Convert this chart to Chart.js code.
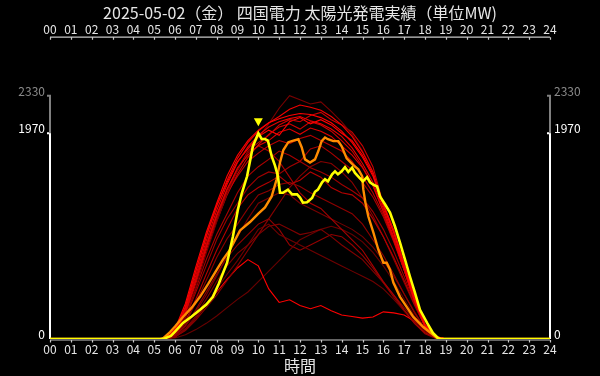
<!DOCTYPE html>
<html><head><meta charset="utf-8">
<script src="https://cdn.jsdelivr.net/npm/chart.js@4.4.1/dist/chart.umd.min.js"></script>
<style>
html,body{margin:0;padding:0;background:#000;}
#wrap{width:600px;height:376px;}
</style></head>
<body><div id="wrap"><canvas id="c" width="600" height="376"></canvas></div>
<script>
const TITLE='2025-05-02（金） 四国電力 太陽光発電実績（単位MW)';
const X_TITLE='時間';
const hourLabels=['00','01','02','03','04','05','06','07','08','09','10','11','12','13','14','15','16','17','18','19','20','21','22','23','24'];

// today (yellow)
const todayHours=[0,5.3,5.5,5.8,6.0,6.38,6.8,7.2,7.5,7.82,8.1,8.5,8.78,9.02,9.2,9.46,9.74,10.0,10.16,10.32,10.46,10.64,10.8,10.94,11.04,11.18,11.42,11.62,11.86,12.0,12.14,12.34,12.58,12.72,12.86,13.06,13.2,13.34,13.54,13.68,13.82,14.0,14.16,14.32,14.5,14.64,14.78,15.02,15.22,15.36,15.5,15.7,15.84,16.08,16.32,16.56,16.8,17.04,17.28,17.52,17.76,18.1,18.38,18.62,18.75,24];
const todayMW=[0,0,5,30,70,154,215,279,330,404,530,731,981,1240,1390,1558,1846,1970,1915,1915,1900,1750,1660,1560,1400,1400,1430,1385,1385,1355,1305,1310,1350,1410,1430,1500,1530,1510,1577,1605,1577,1605,1645,1600,1640,1590,1560,1510,1550,1500,1480,1460,1365,1290,1210,1077,923,760,596,442,280,154,58,10,0,0];

// yesterday (orange)
const prevHours=[0,5.4,5.76,6.0,6.38,6.8,7.2,7.6,8.0,8.3,8.64,9.12,9.6,10.0,10.32,10.64,10.88,11.04,11.2,11.44,11.68,11.92,12.08,12.24,12.48,12.72,12.88,13.04,13.2,13.34,13.6,13.84,14.0,14.24,14.56,14.8,14.98,15.04,15.14,15.28,15.52,15.76,16.0,16.16,16.32,16.48,16.8,17.12,17.44,17.92,18.4,18.65,24];
const prevMW=[0,0,67,120,211,300,404,530,663,760,856,1040,1120,1200,1260,1365,1530,1690,1810,1885,1900,1913,1837,1720,1690,1720,1800,1895,1930,1913,1895,1895,1845,1730,1665,1625,1560,1430,1305,1173,1020,855,730,730,663,540,404,307,211,115,38,0,0];

// past days (red), half-hourly
const pastHours=[0,5,5.5,6,6.5,7,7.5,8,8.5,9,9.5,10,10.5,11,11.5,12,12.5,13,13.5,14,14.5,15,15.5,16,16.5,17,17.5,18,18.5,19,24];
const red01=[0,0,10,95,340,690,1020,1300,1560,1760,1900,2000,2070,2110,2140,2160,2150,2120,2070,1990,1880,1740,1560,1280,1020,700,380,130,20,0,0];
const red02=[0,0,8,85,310,650,980,1270,1520,1730,1880,1990,2070,2130,2200,2240,2220,2190,2130,2050,1940,1790,1600,1290,1040,720,400,140,25,0,0];
const red03=[0,0,7,75,290,610,940,1230,1480,1690,1840,1950,2030,2080,2110,2130,2090,2060,2010,1940,1830,1680,1500,1250,980,680,370,120,20,0,0];
const red04=[0,0,5,60,250,560,880,1180,1430,1640,1760,1850,1900,1980,2010,1960,2020,1990,1940,1850,1760,1640,1470,1220,960,660,360,120,20,0,0];
const red05=[0,0,4,50,220,500,820,1120,1390,1610,1790,1930,2060,2210,2330,2290,2250,2270,2180,2080,1960,1800,1600,1290,1030,710,390,140,25,0,0];
const red06=[0,0,5,65,270,580,900,1190,1440,1620,1800,1880,1950,2050,2100,2080,2140,2170,2100,2050,1980,1850,1650,1290,1040,720,400,140,25,0,0];
const red07=[0,0,6,75,300,650,990,1280,1500,1700,1820,1940,2000,1950,2080,2120,2060,2100,2050,1970,1900,1760,1580,1280,1020,700,380,130,20,0,0];
const red08=[0,0,4,55,240,530,850,1130,1380,1580,1740,1860,1960,2030,2060,2010,2080,2050,1990,1900,1800,1650,1470,1220,950,660,360,120,20,0,0];
const red09=[0,0,5,60,260,570,900,1180,1400,1560,1700,1780,1850,1900,1870,1920,1950,1900,1850,1800,1700,1560,1400,1190,940,670,360,120,20,0,0];
const red10=[0,0,5,50,220,480,760,1000,1200,1400,1560,1650,1720,1800,1760,1700,1820,1850,1780,1700,1620,1500,1360,1170,930,660,350,120,20,0,0];
const red11=[0,0,4,45,200,450,700,950,1150,1300,1450,1550,1600,1580,1650,1700,1640,1600,1550,1480,1420,1350,1220,1050,840,600,340,120,20,0,0];
const red12=[0,0,3,40,170,380,620,850,1050,1250,1380,1450,1500,1560,1480,1520,1600,1550,1450,1400,1380,1300,1150,980,780,560,330,120,20,0,0];
const red13=[0,0,3,35,150,350,560,780,960,1100,1250,1380,1420,1480,1500,1460,1400,1350,1300,1250,1200,1100,950,800,620,430,250,90,15,0,0];
const red14=[0,0,5,60,260,560,880,1150,1400,1620,1780,1850,1800,1700,1550,1400,1300,1250,1150,1050,950,850,700,550,420,280,150,60,10,0,0];
const red15=[0,0,2,20,80,180,300,420,560,700,850,1000,1150,1300,1450,1560,1650,1700,1680,1600,1500,1350,1180,980,760,540,320,120,20,0,0];
const red16=[0,0,2,25,100,220,380,550,700,820,900,1000,1080,1100,1050,1000,1020,1050,980,900,830,760,650,540,420,300,180,70,10,0,0];
const red17=[0,0,2,20,90,200,330,480,620,750,900,1050,1100,1000,950,900,850,800,750,700,650,600,550,480,380,270,160,60,10,0,0];
const red18=[0,0,2,20,90,200,330,450,570,680,760,700,480,350,375,320,290,320,270,230,215,200,210,260,250,230,170,90,20,0,0];
const red19=[0,0,1,10,40,90,150,220,300,380,450,550,650,750,850,950,1000,1050,1080,1050,1000,930,830,700,550,380,220,80,10,0,0];
const red20=[0,0,3,30,130,280,450,620,780,900,1000,1100,1150,1050,900,850,900,950,1000,980,900,800,680,540,400,270,150,50,8,0,0];
const red21=[0,0,2,30,120,260,420,600,800,980,1150,1300,1350,1400,1380,1300,1250,1200,1150,1100,1050,980,880,750,600,430,260,100,15,0,0];

const pastDays=[red01,red02,red03,red04,red05,red06,red07,red08,red09,red10,red11,red12,red13,red14,red15,red16,red17,red18,red19,red20,red21];
const pastColors=['#ff0000','#f00000','#e80000','#dd0000','#7a0000','#c80000','#ff0000','#d00000','#bb0000','#aa0000','#a00000','#b40000','#8e0000','#a60000','#880000','#800000','#700000','#ff0000','#680000','#940000','#780000'];

const todayMax=Math.max(...todayMW);
const allMax=Math.max(todayMax,...prevMW,...pastDays.flat());
const yTicks=[0,todayMax,allMax];
const Y_MAX=2890;

const FONT="'Noto Sans CJK JP','Noto Sans',sans-serif";
const pts=(hs,vs)=>hs.map((h,i)=>({x:h,y:vs[i]}));

const datasets=[
  {data:pts(todayHours,todayMW),borderColor:'#ffff00',borderWidth:2.6},
  {data:pts(prevHours,prevMW),borderColor:'#ff8c00',borderWidth:2.4},
  ...pastDays.map((d,i)=>({data:pts(pastHours,d),borderColor:pastColors[i],borderWidth:1.1}))
];
datasets.forEach(d=>{d.pointRadius=0;d.tension=0;d.fill=false;});

const axisPlugin={id:'axisLines',
  beforeDatasetsDraw(chart){
    const {ctx,chartArea:a,scales:{x,y}}=chart;
    ctx.save();
    ctx.strokeStyle='#c8c8c8';ctx.lineWidth=1.2;
    const yb=y.getPixelForValue(0)+1;
    ctx.beginPath();
    ctx.moveTo(a.left,a.top);ctx.lineTo(a.right,a.top);
    ctx.moveTo(a.left,yb);ctx.lineTo(a.right,yb);
    for(let i=0;i<hourLabels.length;i++){
      const px=Math.round(x.getPixelForValue(i))+0.5;
      ctx.moveTo(px,a.top);ctx.lineTo(px,a.top+2.5);
      ctx.moveTo(px,yb);ctx.lineTo(px,yb+2.5);
    }
    ctx.stroke();
    const y0=y.getPixelForValue(0),y1=y.getPixelForValue(todayMax),y2=y.getPixelForValue(allMax);
    [a.left,a.right].forEach(px=>{
      ctx.lineWidth=2;
      ctx.strokeStyle='#ffffff';
      ctx.beginPath();ctx.moveTo(px,y0);ctx.lineTo(px,y1);ctx.lineTo(px-3,y1);ctx.stroke();
      ctx.strokeStyle='#808080';
      ctx.beginPath();ctx.moveTo(px,y1);ctx.lineTo(px,y2);ctx.lineTo(px-3,y2);ctx.stroke();
    });
    ctx.restore();
  },
  afterDatasetsDraw(chart){
    const {ctx,scales:{x,y}}=chart;
    const i=todayMW.indexOf(todayMax);
    const px=x.getPixelForValue(todayHours[i]),py=y.getPixelForValue(todayMax);
    ctx.save();
    ctx.fillStyle='#ffff00';
    ctx.beginPath();
    ctx.moveTo(px-4.5,py-15);ctx.lineTo(px+4.5,py-15);ctx.lineTo(px,py-7);ctx.closePath();
    ctx.fill();
    ctx.restore();
  }
};

const xAxis=(pos,h,pad)=>({type:'linear',position:pos,min:0,max:24,
  afterBuildTicks:s=>{s.ticks=hourLabels.map((_,i)=>({value:i}));},
  ticks:{color:'#e6e6e6',font:{family:FONT,size:12},padding:pad,maxRotation:0,autoSkip:false,callback:v=>hourLabels[v]},
  grid:{display:false,drawTicks:false},border:{display:false},
  afterFit:s=>{s.height=h;}});
const yAxis=(pos,pad)=>({type:'linear',position:pos,min:0,max:Y_MAX,
  afterBuildTicks:s=>{s.ticks=yTicks.map(v=>({value:v}));},
  ticks:{color:c=>c.tick.value===allMax?'#8a8a8a':'#ffffff',font:{family:FONT,size:12,lineHeight:0.75},padding:pad,callback:v=>[String(v),'']},
  grid:{display:false,drawTicks:false},border:{display:false},
  afterFit:s=>{s.width=50;}});

const xBottom=xAxis('bottom',37,3);
xBottom.title={display:true,text:X_TITLE,color:'#e6e6e6',font:{family:FONT,size:16},padding:{top:0,bottom:0}};

new Chart(document.getElementById('c'),{
  type:'line',
  data:{datasets},
  options:{responsive:false,animation:false,devicePixelRatio:1,
    layout:{padding:0},
    plugins:{legend:{display:false},tooltip:{enabled:false},
      title:{display:true,text:TITLE,color:'#e6e6e6',font:{family:FONT,size:16,weight:'normal'},padding:{top:3,bottom:0}}},
    scales:{x:xBottom,x2:xAxis('top',15,1),y:yAxis('left',5),y2:yAxis('right',4)}
  },
  plugins:[axisPlugin]
});
</script>
</body></html>
